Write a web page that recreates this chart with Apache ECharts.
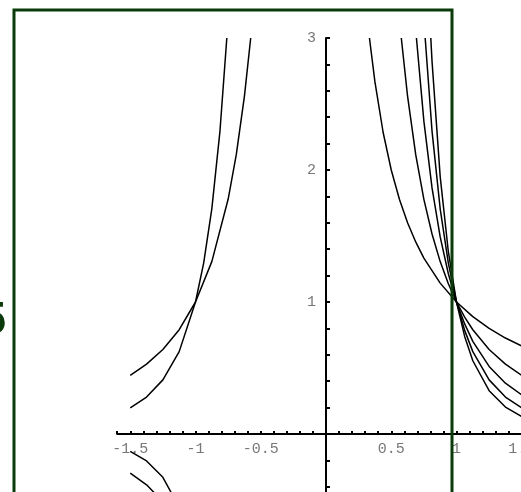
<!DOCTYPE html>
<html>
<head>
<meta charset="utf-8">
<script src="https://cdn.jsdelivr.net/npm/echarts@6/dist/echarts.min.js"></script>
<style>
html, body { margin: 0; padding: 0; background: #fff; }
#main { width: 521px; height: 492px; }
</style>
</head>
<body>
<div id="main"></div>
<script>
// tick labels
var xLabels = [-1.5, -1, -0.5, 0.5, 1, 1.5];
var yLabels = [1, 2, 3];

// right-hand branches (through 1,1)
var rightA = [[0.333, 3], [0.375, 2.667], [0.4375, 2.286], [0.5, 2], [0.5625, 1.778], [0.625, 1.6], [0.6875, 1.455], [0.75, 1.333], [0.875, 1.143], [1, 1], [1.125, 0.889], [1.25, 0.8], [1.375, 0.727], [1.5, 0.667]];
var rightB = [[0.577, 3], [0.625, 2.56], [0.6875, 2.116], [0.75, 1.778], [0.8125, 1.515], [0.875, 1.306], [0.9375, 1.138], [1, 1], [1.0625, 0.886], [1.125, 0.79], [1.25, 0.64], [1.375, 0.529], [1.5, 0.444]];
var rightC = [[0.693, 3], [0.75, 2.37], [0.8125, 1.864], [0.875, 1.493], [0.9375, 1.214], [1, 1], [1.0625, 0.834], [1.125, 0.702], [1.25, 0.512], [1.375, 0.385], [1.5, 0.296]];
var rightD = [[0.76, 3], [0.8125, 2.295], [0.875, 1.706], [0.9375, 1.295], [1, 1], [1.0625, 0.785], [1.125, 0.624], [1.25, 0.41], [1.375, 0.28], [1.5, 0.198]];
var rightE = [[0.803, 3], [0.8125, 2.824], [0.875, 1.95], [0.9375, 1.381], [1, 1], [1.0625, 0.739], [1.125, 0.555], [1.25, 0.328], [1.375, 0.204], [1.5, 0.132]];

// left-hand branches above the axis (through -1,1)
var leftUpB = [[-1.5, 0.444], [-1.375, 0.529], [-1.25, 0.64], [-1.125, 0.79], [-1, 1], [-0.875, 1.306], [-0.75, 1.778], [-0.6875, 2.116], [-0.625, 2.56], [-0.577, 3]];
var leftUpD = [[-1.5, 0.198], [-1.375, 0.28], [-1.25, 0.41], [-1.125, 0.624], [-1, 1], [-0.9375, 1.295], [-0.875, 1.706], [-0.8125, 2.295], [-0.76, 3]];

// left-hand branches below the axis
var leftDownC = [[-1.5, -0.296], [-1.375, -0.385], [-1.25, -0.512], [-1.186, -0.6]];
var leftDownE = [[-1.5, -0.132], [-1.375, -0.204], [-1.25, -0.328], [-1.125, -0.555], [-1.108, -0.6]];

var curves = [rightA, rightB, rightC, rightD, rightE, leftUpB, leftUpD, leftDownC, leftDownE];

var frameColor = '#0b3a0b';
var labelFont = 'Liberation Mono';

var curveSeries = curves.map(function (d) {
    return {
        type: 'line',
        data: d,
        showSymbol: false,
        smooth: false,
        silent: true,
        lineStyle: {color: '#000', width: 1.5}
    };
});

// the axes sit on zero, so their numbers are put there as label-only points
var labelStyle = {
    show: true,
    color: '#555',
    fontFamily: labelFont,
    fontSize: 15
};

var xLabelSeries = {
    type: 'scatter',
    symbolSize: 0,
    silent: true,
    data: xLabels.map(function (v) { return [v, 0]; }),
    label: Object.assign({}, labelStyle, {
        position: 'bottom',
        distance: 8,
        formatter: function (p) { return String(p.value[0]); }
    })
};

var yLabelSeries = {
    type: 'scatter',
    symbolSize: 0,
    silent: true,
    data: yLabels.map(function (v) { return [0, v]; }),
    label: Object.assign({}, labelStyle, {
        position: 'left',
        distance: 10,
        formatter: function (p) { return String(p.value[1]); }
    })
};

var myChart = echarts.init(document.getElementById('main'));
var option = {
    animation: false,
    grid: {
        left: 117.2,
        width: 417.6,
        top: 38,
        height: 475.2,
        outerBoundsMode: 'none',
        containLabel: false
    },
    xAxis: {
        type: 'value',
        min: -1.6,
        max: 1.6,
        interval: 0.1,
        splitLine: {show: false},
        axisLine: {onZero: true, lineStyle: {color: '#000', width: 2}},
        axisTick: {inside: true, length: 3, lineStyle: {color: '#000', width: 2}},
        axisLabel: {show: false}
    },
    yAxis: {
        type: 'value',
        min: -0.6,
        max: 3,
        interval: 0.2,
        splitLine: {show: false},
        axisLine: {onZero: true, lineStyle: {color: '#000', width: 2}},
        axisTick: {inside: true, length: 4, lineStyle: {color: '#000', width: 2}},
        axisLabel: {show: false}
    },
    series: curveSeries.concat([xLabelSeries, yLabelSeries]),
    graphic: [
        {
            type: 'rect',
            z: 100,
            shape: {x: 14, y: 10, width: 438, height: 520},
            style: {fill: 'none', stroke: frameColor, lineWidth: 3}
        },
        {
            type: 'text',
            z: 100,
            x: 6,
            y: 321,
            style: {
                text: '5',
                fill: frameColor,
                font: 'bold 46px "Liberation Sans"',
                textAlign: 'right',
                textVerticalAlign: 'middle'
            }
        }
    ]
};
myChart.setOption(option);
</script>
</body>
</html>
